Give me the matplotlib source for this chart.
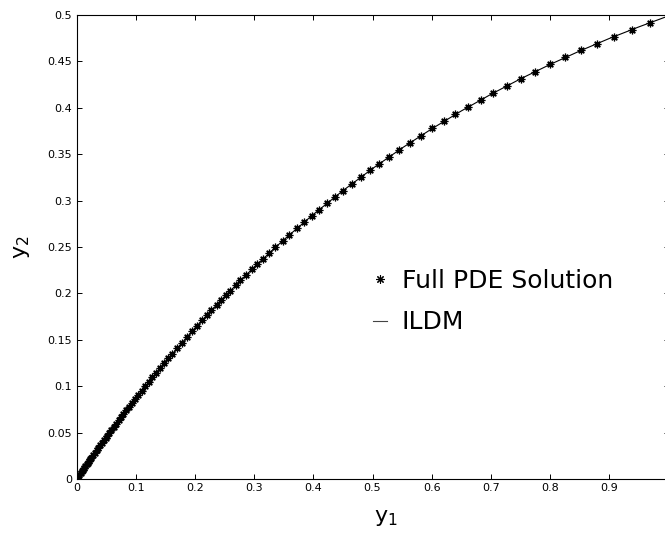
import numpy as np
import matplotlib
matplotlib.use("Agg")
import matplotlib.pyplot as plt
from matplotlib.lines import Line2D

# ILDM manifold (y1, y2)
ildm_y1 = [0.0, 0.05, 0.10, 0.15, 0.20, 0.25, 0.30, 0.35, 0.40, 0.45, 0.50,
           0.55, 0.60, 0.65, 0.70, 0.75, 0.80, 0.85, 0.90, 0.95, 0.994]
ildm_y2 = [0.0, 0.0451, 0.0871, 0.1262, 0.1627, 0.1966, 0.2283, 0.2577,
           0.2851, 0.3107, 0.3345, 0.3567, 0.3773, 0.3966, 0.4145, 0.4312,
           0.4467, 0.4612, 0.4747, 0.4872, 0.4976]

# full PDE solution samples (asterisks)
pde_y1 = [0.000, 0.001, 0.003, 0.005, 0.007, 0.009, 0.011, 0.013, 0.015, 0.017,
          0.019, 0.021, 0.023, 0.025, 0.028, 0.031, 0.034, 0.037, 0.040, 0.043,
          0.046, 0.049, 0.052, 0.055, 0.059, 0.063, 0.067, 0.071, 0.075, 0.079,
          0.084, 0.089, 0.094, 0.099, 0.104, 0.110, 0.116, 0.122, 0.128, 0.134,
          0.141, 0.148, 0.155, 0.162, 0.170, 0.178, 0.186, 0.195, 0.203, 0.212,
          0.220, 0.228, 0.237, 0.244, 0.252, 0.260, 0.269, 0.277, 0.286, 0.296,
          0.305, 0.315, 0.326, 0.336, 0.348, 0.359, 0.372, 0.385, 0.397, 0.409,
          0.423, 0.437, 0.450, 0.465, 0.480, 0.496, 0.511, 0.528, 0.545, 0.563,
          0.582, 0.601, 0.621, 0.640, 0.661, 0.684, 0.704, 0.728, 0.751, 0.775,
          0.800, 0.826, 0.853, 0.879, 0.908, 0.938, 0.968]
pde_y2 = [0.0000, 0.0009, 0.0028, 0.0047, 0.0065, 0.0084, 0.0102, 0.0120, 0.0139, 0.0157,
          0.0175, 0.0193, 0.0211, 0.0230, 0.0256, 0.0283, 0.0310, 0.0337, 0.0363, 0.0390,
          0.0416, 0.0442, 0.0468, 0.0494, 0.0529, 0.0563, 0.0597, 0.0631, 0.0665, 0.0698,
          0.0740, 0.0781, 0.0822, 0.0863, 0.0903, 0.0952, 0.0999, 0.1047, 0.1094, 0.1140,
          0.1194, 0.1247, 0.1300, 0.1352, 0.1411, 0.1470, 0.1527, 0.1592, 0.1648, 0.1710,
          0.1765, 0.1820, 0.1880, 0.1927, 0.1979, 0.2031, 0.2089, 0.2140, 0.2196, 0.2258,
          0.2313, 0.2373, 0.2438, 0.2497, 0.2566, 0.2628, 0.2700, 0.2771, 0.2835, 0.2899,
          0.2971, 0.3042, 0.3107, 0.3180, 0.3252, 0.3327, 0.3395, 0.3471, 0.3545, 0.3622,
          0.3701, 0.3777, 0.3856, 0.3928, 0.4006, 0.4089, 0.4159, 0.4240, 0.4315, 0.4391,
          0.4467, 0.4544, 0.4620, 0.4691, 0.4768, 0.4843, 0.4916]

xticks = [0, 0.1, 0.2, 0.3, 0.4, 0.5, 0.6, 0.7, 0.8, 0.9]
xtick_labels = ["0", "0.1", "0.2", "0.3", "0.4", "0.5", "0.6", "0.7", "0.8", "0.9"]
yticks = [0, 0.05, 0.1, 0.15, 0.2, 0.25, 0.3, 0.35, 0.4, 0.45, 0.5]
ytick_labels = ["0", "0.05", "0.1", "0.15", "0.2", "0.25", "0.3", "0.35",
                "0.4", "0.45", "0.5"]

plt.rcParams['font.family'] = ['DejaVu Sans']

W, H = 665, 537
fig = plt.figure(figsize=(W / 100, H / 100), dpi=100)
ax = fig.add_axes([76.5 / W, 1 - 479 / H, 592 / W, 464 / H])

star = (8, 2, 0)
ax.plot(ildm_y1, ildm_y2, color='black', lw=0.8)
ax.plot(pde_y1, pde_y2, linestyle='none', marker=star, ms=5.5, mew=0.9,
        color='black')

ax.set_xlim(0, 1)
ax.set_ylim(0, 0.5)
ax.set_xticks(xticks)
ax.set_xticklabels(xtick_labels)
ax.set_yticks(yticks)
ax.set_yticklabels(ytick_labels)
ax.tick_params(direction='in', length=3.6, width=0.7, top=True, right=True,
               labelsize=8, pad=3)
for s in ax.spines.values():
    s.set_linewidth(0.8)
# right edge of the box falls just outside the picture
ax.spines['right'].set_visible(False)

ax.set_xlabel(r'$\mathregular{y_1}$', fontsize=16)
ax.xaxis.set_label_coords(0.523, -0.063)
ax.set_ylabel(r'$\mathregular{y_2}$', fontsize=16, labelpad=11)

handles = [Line2D([], [], linestyle='none', marker=star, ms=6, mew=0.8,
                  color='black'),
           Line2D([], [], color='#444444', lw=0.8)]
ax.legend(handles, ['Full PDE Solution', 'ILDM'], frameon=False,
          loc='upper left', bbox_to_anchor=(373 / W, 1 - 269 / H),
          bbox_transform=fig.transFigure, fontsize=18, borderpad=0,
          handlelength=0.57, handletextpad=0.57, labelspacing=0.69,
          borderaxespad=0)

fig.savefig('out.png', dpi=100)
